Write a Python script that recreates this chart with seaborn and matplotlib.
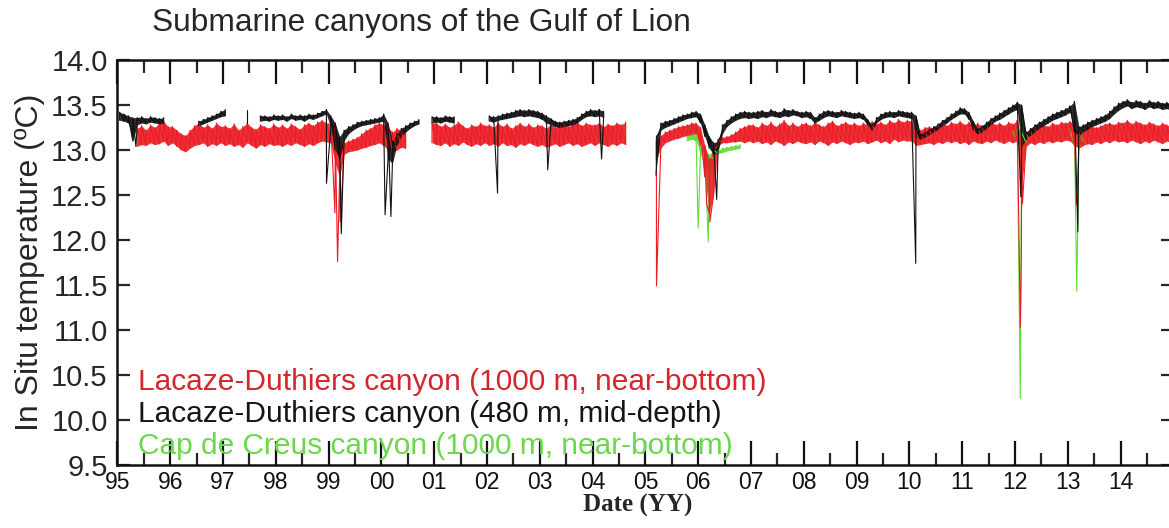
import numpy as np
import pandas as pd
import matplotlib
matplotlib.use('Agg')
import matplotlib.pyplot as plt
import seaborn as sns

N = None
# monthly lo/hi envelopes, 1995-01 .. 2014-12 (one row per year)
red_lo = [
    N, N, N, N, 13.04, 13.06, 13.05, 13.08, 13.06, 13.07, 13.10, 13.05,
    13.08, 13.04, 13.00, 12.98, 13.02, 13.05, 13.06, 13.08, 13.04, 13.07, 13.05, 13.08,
    13.05, 13.07, 13.04, 13.06, 13.03, 13.08, 13.05, 13.02, 13.06, 13.04, 13.07, 13.05,
    13.06, 13.04, 13.07, 13.05, 13.08, 13.06, 13.04, 13.07, 13.05, 13.08, 13.10, 13.09,
    13.08, 12.85, 12.70, 12.95, 12.98, 12.99, 13.00, 13.02, 13.03, 13.05, 13.06, 13.08,
    13.05, 13.00, 12.98, 13.00, 13.03, 13.02, N, N, N, N, N, 13.08,
    13.06, 13.05, 13.08, 13.04, 13.07, 13.05, 13.09, 13.06, 13.04, 13.07, 13.05, 13.08,
    13.05, 13.07, 13.04, 13.08, 13.05, 13.06, 13.03, 13.07, 13.05, 13.08, 13.06, 13.04,
    13.06, 13.03, 13.05, 13.07, 13.04, 13.06, 13.08, 13.05, 13.07, 13.04, 13.06, 13.08,
    13.05, 13.08, 13.06, 13.04, 13.07, 13.05, 13.08, 13.06, N, N, N, N,
    N, N, 12.90, 13.02, 13.08, 13.10, 13.12, 13.13, 13.15, 13.16, 13.17, 13.18,
    13.05, 12.70, 12.30, 12.50, 13.05, 13.08, 13.08, 13.09, 13.09, 13.10, 13.08, 13.10,
    13.08, 13.10, 13.07, 13.09, 13.06, 13.10, 13.08, 13.05, 13.09, 13.07, 13.10, 13.08,
    13.07, 13.09, 13.06, 13.10, 13.08, 13.05, 13.09, 13.07, 13.10, 13.08, 13.06, 13.09,
    13.08, 13.10, 13.07, 13.09, 13.11, 13.08, 13.10, 13.07, 13.12, 13.09, 13.11, 13.10,
    13.10, 13.05, 13.06, 13.07, 13.08, 13.06, 13.09, 13.07, 13.10, 13.08, 13.10, 13.07,
    13.09, 13.06, 13.10, 13.08, 13.07, 13.10, 13.08, 13.11, 13.09, 13.07, 13.10, 13.08,
    13.10, 12.60, 13.04, 13.08, 13.06, 13.09, 13.07, 13.10, 13.08, 13.10, 13.09, 13.11,
    13.10, 13.05, 13.02, 13.05, 13.07, 13.06, 13.09, 13.07, 13.10, 13.08, 13.11, 13.09,
    13.10, 13.08, 13.11, 13.09, 13.07, 13.10, 13.08, 13.11, 13.09, 13.07, 13.10, 13.08,
]
red_hi = [
    N, N, N, N, 13.24, 13.27, 13.22, 13.28, 13.25, 13.30, 13.32, 13.26,
    13.26, 13.22, 13.18, 13.16, 13.22, 13.27, 13.30, 13.25, 13.28, 13.24, 13.30, 13.26,
    13.27, 13.24, 13.29, 13.22, 13.26, 13.30, 13.25, 13.23, 13.28, 13.26, 13.24, 13.29,
    13.25, 13.28, 13.24, 13.29, 13.26, 13.23, 13.28, 13.30, 13.27, 13.31, 13.33, 13.30,
    13.30, 13.25, 13.05, 13.08, 13.10, 13.12, 13.14, 13.18, 13.22, 13.24, 13.28, 13.30,
    13.28, 13.25, 13.20, 13.24, 13.22, 13.20, N, N, N, N, N, 13.30,
    13.30, 13.26, 13.29, 13.25, 13.28, 13.31, 13.27, 13.24, 13.28, 13.26, 13.30, 13.27,
    13.28, 13.25, 13.30, 13.26, 13.29, 13.24, 13.27, 13.30, 13.26, 13.29, 13.25, 13.28,
    13.27, 13.24, 13.29, 13.25, 13.28, 13.30, 13.26, 13.29, 13.31, 13.27, 13.30, 13.28,
    13.28, 13.30, 13.26, 13.29, 13.27, 13.30, 13.28, 13.31, N, N, N, N,
    N, N, 13.10, 13.16, 13.20, 13.22, 13.24, 13.26, 13.27, 13.28, 13.30, 13.30,
    13.25, 13.05, 12.90, 13.00, 13.12, 13.14, 13.15, 13.17, 13.20, 13.24, 13.26, 13.28,
    13.28, 13.25, 13.30, 13.27, 13.31, 13.26, 13.29, 13.33, 13.27, 13.30, 13.26, 13.29,
    13.30, 13.27, 13.31, 13.28, 13.26, 13.30, 13.32, 13.27, 13.29, 13.31, 13.28, 13.30,
    13.27, 13.30, 13.28, 13.32, 13.29, 13.31, 13.28, 13.33, 13.30, 13.34, 13.31, 13.33,
    13.32, 13.20, 13.22, 13.25, 13.26, 13.24, 13.28, 13.30, 13.27, 13.31, 13.29, 13.32,
    13.28, 13.31, 13.27, 13.30, 13.26, 13.29, 13.32, 13.28, 13.30, 13.27, 13.31, 13.29,
    13.33, 13.10, 13.18, 13.22, 13.25, 13.27, 13.28, 13.26, 13.30, 13.28, 13.31, 13.30,
    13.32, 13.28, 13.18, 13.22, 13.24, 13.26, 13.25, 13.27, 13.29, 13.30, 13.28, 13.31,
    13.30, 13.33, 13.29, 13.32, 13.30, 13.28, 13.31, 13.29, 13.27, 13.30, 13.28, 13.26,
]
red_spike_t = [1999.12, 1999.17, 1999.22, 2005.21, 2006.16, 2006.22,
               2012.08, 2012.10, 2012.12, 2012.14, 2013.16, 2013.18]
red_spike_v = [12.30, 11.76, 12.20, 11.49, 12.40, 12.20,
               11.90, 11.03, 11.80, 12.40, 12.39, 12.60]

black_lo = [
    13.33, 13.32, 13.30, 13.10, 13.28, 13.30, 13.29, 13.31, 13.30, 13.29, 13.30, N,
    N, N, N, N, N, N, 13.27, 13.29, 13.31, 13.33, 13.35, 13.37,
    13.38, N, N, N, N, 13.30, N, N, 13.32, 13.33, 13.32, 13.34,
    13.33, 13.34, 13.32, 13.35, 13.33, 13.34, 13.32, 13.35, 13.34, 13.36, 13.38, 13.40,
    13.25, 13.00, 12.90, 13.10, 13.18, 13.22, 13.25, 13.27, 13.28, 13.29, 13.30, 13.31,
    13.32, 12.90, 12.85, 13.05, 13.15, 13.20, 13.24, 13.27, 13.29, N, N, 13.30,
    13.31, 13.30, 13.32, 13.31, 13.30, N, N, N, N, N, N, N,
    13.32, 13.31, 13.33, 13.34, 13.35, 13.36, 13.37, 13.38, 13.37, 13.38, 13.37, 13.36,
    13.34, 13.30, 13.28, 13.26, 13.25, 13.26, 13.27, 13.28, 13.30, 13.34, 13.37, 13.38,
    13.37, 13.38, 13.36, N, N, N, N, N, N, N, N, N,
    N, N, 12.80, 13.22, 13.25, 13.27, 13.29, 13.31, 13.33, 13.35, 13.36, 13.37,
    13.30, 13.15, 13.02, 12.95, 12.98, 13.18, 13.26, 13.30, 13.33, 13.35, 13.36, 13.35,
    13.36, 13.35, 13.37, 13.36, 13.38, 13.37, 13.36, 13.38, 13.37, 13.39, 13.38, 13.36,
    13.37, 13.35, 13.30, 13.33, 13.36, 13.38, 13.37, 13.36, 13.38, 13.37, 13.36, 13.35,
    13.36, 13.34, 13.28, 13.22, 13.30, 13.34, 13.36, 13.37, 13.36, 13.38, 13.37, 13.36,
    13.35, 13.15, 13.12, 13.14, 13.17, 13.20, 13.23, 13.27, 13.30, 13.34, 13.37, 13.40,
    13.40, 13.34, 13.22, 13.18, 13.20, 13.24, 13.28, 13.32, 13.34, 13.37, 13.40, 13.43,
    13.45, 13.04, 13.12, 13.16, 13.20, 13.24, 13.27, 13.30, 13.33, 13.35, 13.37, 13.39,
    13.42, 13.20, 13.16, 13.20, 13.23, 13.26, 13.28, 13.30, 13.32, 13.35, 13.40, 13.44,
    13.47, 13.49, 13.46, 13.48, 13.47, 13.45, 13.48, 13.46, 13.47, 13.45, 13.46, 13.44,
]
black_hi = [
    13.42, 13.40, 13.38, 13.36, 13.36, 13.37, 13.35, 13.37, 13.36, 13.35, 13.36, N,
    N, N, N, N, N, N, 13.32, 13.34, 13.36, 13.38, 13.40, 13.43,
    13.45, N, N, N, N, 13.45, N, N, 13.38, 13.38, 13.37, 13.39,
    13.38, 13.39, 13.37, 13.40, 13.38, 13.39, 13.38, 13.40, 13.39, 13.41, 13.43, 13.45,
    13.38, 13.30, 13.15, 13.22, 13.26, 13.28, 13.31, 13.32, 13.33, 13.34, 13.35, 13.36,
    13.40, 13.30, 13.10, 13.18, 13.24, 13.27, 13.30, 13.32, 13.34, N, N, 13.37,
    13.37, 13.36, 13.38, 13.37, 13.37, N, N, N, N, N, N, N,
    13.38, 13.37, 13.38, 13.40, 13.41, 13.42, 13.44, 13.45, 13.44, 13.45, 13.44, 13.43,
    13.41, 13.38, 13.35, 13.32, 13.31, 13.32, 13.33, 13.34, 13.36, 13.40, 13.43, 13.45,
    13.44, 13.45, 13.43, N, N, N, N, N, N, N, N, N,
    N, N, 13.15, 13.30, 13.32, 13.33, 13.35, 13.37, 13.39, 13.40, 13.42, 13.43,
    13.40, 13.28, 13.15, 13.08, 13.10, 13.28, 13.33, 13.37, 13.40, 13.42, 13.43, 13.42,
    13.42, 13.43, 13.44, 13.42, 13.45, 13.43, 13.42, 13.46, 13.44, 13.45, 13.43, 13.42,
    13.43, 13.42, 13.36, 13.40, 13.43, 13.44, 13.43, 13.42, 13.44, 13.43, 13.42, 13.41,
    13.42, 13.40, 13.34, 13.28, 13.36, 13.40, 13.42, 13.43, 13.42, 13.44, 13.43, 13.42,
    13.42, 13.38, 13.18, 13.20, 13.23, 13.26, 13.29, 13.33, 13.36, 13.40, 13.43, 13.47,
    13.46, 13.42, 13.32, 13.24, 13.27, 13.31, 13.35, 13.38, 13.41, 13.44, 13.47, 13.50,
    13.53, 13.50, 13.20, 13.24, 13.28, 13.31, 13.34, 13.37, 13.40, 13.42, 13.44, 13.46,
    13.49, 13.54, 13.26, 13.28, 13.31, 13.33, 13.35, 13.37, 13.39, 13.43, 13.48, 13.52,
    13.54, 13.56, 13.53, 13.55, 13.54, 13.52, 13.55, 13.53, 13.54, 13.52, 13.53, 13.51,
]
black_spike_t = [1995.35, 1998.96, 1999.24, 2000.07, 2000.18, 2002.20, 2003.15,
                 2004.17, 2005.20, 2006.35, 2010.12, 2012.11, 2013.19]
black_spike_v = [13.04, 12.63, 12.07, 12.28, 12.26, 12.52, 12.78,
                 12.90, 12.72, 12.45, 11.74, 12.48, 12.09]

green_lo = (
    [N] * 12 * 10
    + [N, N, N, N, N, N, N, N, N, 13.10, 13.12, 13.10]
    + [12.95, 12.85, 12.70, 12.90, 12.96, 12.97, 12.99, 13.00, 13.01, 13.02, N, N]
    + [N] * 12 * 4
    + [N, N, N, N, N, N, N, N, N, N, N, 13.12]
    + [13.12, 13.00, 13.08, 13.10, N, N, N, N, N, N, N, N]
    + [13.12, 13.05, 13.06, 13.08, N, N, N, N, N, N, N, N]
    + [N] * 12
)
green_hi = (
    [N] * 12 * 10
    + [N, N, N, N, N, N, N, N, N, 13.16, 13.18, 13.17]
    + [13.12, 13.00, 12.95, 13.00, 13.00, 13.02, 13.03, 13.04, 13.05, 13.06, N, N]
    + [N] * 12 * 4
    + [N, N, N, N, N, N, N, N, N, N, N, 13.22]
    + [13.24, 13.20, 13.18, 13.20, N, N, N, N, N, N, N, N]
    + [13.24, 13.20, 13.18, 13.20, N, N, N, N, N, N, N, N]
    + [N] * 12
)
green_spike_t = [2006.00, 2006.19, 2012.10, 2013.17]
green_spike_v = [12.13, 11.98, 10.24, 11.43]

years = list(range(1995, 2015))
year_labels = [f'{y % 100:02d}' for y in years]
legend_labels = ['Lacaze-Duthiers canyon (1000 m, near-bottom)',
                 'Lacaze-Duthiers canyon (480 m, mid-depth)',
                 'Cap de Creus canyon (1000 m, near-bottom)']

RED, BLACK, GREEN = '#ec1c24', '#111111', '#62dd3c'
TXT = {'red': '#d4262c', 'black': '#151515', 'green': '#6ad84a'}


def to_long(lo, hi, st, sv):
    lo = np.array(lo, dtype=float)
    hi = np.array(hi, dtype=float)
    t = 1995 + (np.arange(len(lo)) + 0.5) / 12
    ok = ~np.isnan(lo)
    seg = np.cumsum(~ok)          # new segment after every gap
    idx = np.where(ok)[0]
    rows = [(t[i], lo[i], seg[i]) for i in idx]
    rows += [(t[i], hi[i], seg[i]) for i in idx]
    for ts, vs in zip(st, sv):
        i = idx[np.argmin(np.abs(t[idx] - ts))]
        rows.append((ts, vs, seg[i]))
    band = pd.DataFrame({'t': t[idx], 'lo': lo[idx], 'hi': hi[idx], 'seg': seg[idx]})
    return pd.DataFrame(rows, columns=['t', 'temp', 'seg']), band


sns.set_style('ticks')
plt.rcParams['font.family'] = ['Liberation Sans', 'DejaVu Sans']

fig = plt.figure(figsize=(11.69, 5.28), dpi=100)
ax = fig.add_axes([117.4 / 1169, 1 - 465 / 528, 1056 / 1169, 405 / 528])

for lo, hi, st, sv, c in [(green_lo, green_hi, green_spike_t, green_spike_v, GREEN),
                          (red_lo, red_hi, red_spike_t, red_spike_v, RED),
                          (black_lo, black_hi, black_spike_t, black_spike_v, BLACK)]:
    d, band = to_long(lo, hi, st, sv)
    for _, b in band.groupby('seg'):
        ax.fill_between(b['t'], b['lo'], b['hi'], color=c, lw=0, alpha=0.9)
    sns.lineplot(data=d, x='t', y='temp', units='seg', estimator=None,
                 color=c, lw=0.8, ax=ax, legend=False)

ax.set_xlim(1995, 2015)
ax.set_ylim(9.5, 14.0)
ax.set_xticks(years)
ax.set_xticklabels(year_labels)
ax.set_xticks(np.arange(1995.5, 2015, 1.0), minor=True)
ax.set_yticks(np.arange(9.5, 14.01, 0.5))
ax.set_yticklabels([f'{v:.1f}' for v in np.arange(9.5, 14.01, 0.5)])
ax.tick_params(axis='x', which='major', direction='in', length=17, width=1.6,
               top=True, bottom=True, labelsize=16.5, pad=4, colors='#111111')
ax.tick_params(axis='x', which='minor', direction='in', length=9, width=1.6,
               top=True, bottom=True)
ax.tick_params(axis='y', which='major', direction='in', length=9, width=1.6,
               left=True, right=True, labelsize=21, pad=7)
for s in ax.spines.values():
    s.set_linewidth(1.8)
    s.set_color('#111111')

ax.set_ylabel('In Situ temperature (ºC)', fontsize=23, labelpad=4)
ax.set_xlabel('Date (YY)', fontsize=18, fontweight='bold',
              family=['Liberation Serif', 'DejaVu Serif'])
ax.xaxis.set_label_coords((638 - 117.4) / 1056, (465 - 505) / 405)
ax.xaxis.label.set_va('center')

for txt, c, y in zip(legend_labels, ['red', 'black', 'green'], [0.205, 0.126, 0.047]):
    ax.text(0.0195, y, txt, color=TXT[c], fontsize=21.5, transform=ax.transAxes,
            ha='left', va='center')

fig.text(152 / 1169, 1 - 23 / 528, 'Submarine canyons of the Gulf of Lion',
         fontsize=22.8, ha='left', va='center')

fig.savefig('out.png', dpi=100)
